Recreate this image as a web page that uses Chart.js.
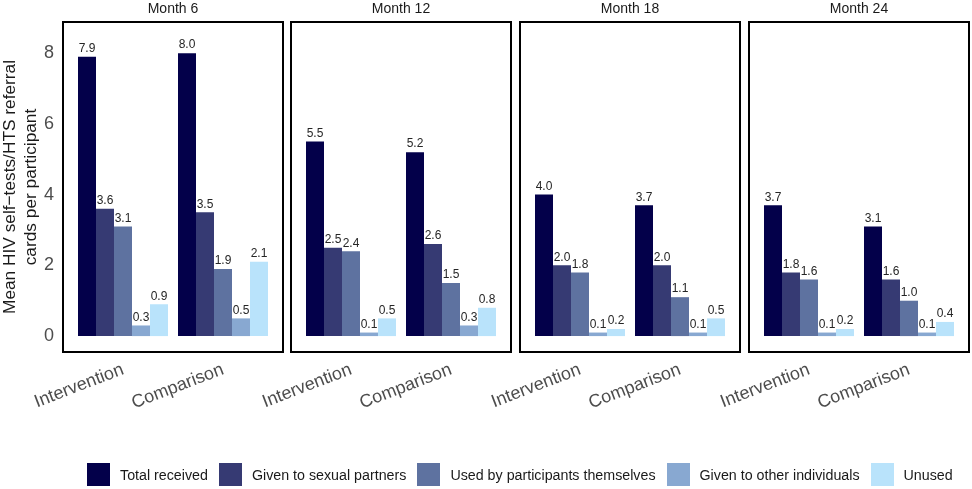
<!DOCTYPE html>
<html>
<head>
<meta charset="utf-8">
<script src="https://cdn.jsdelivr.net/npm/chart.js@4"></script>
<style>
  body { margin: 0; background: #fff; font-family: "Liberation Sans", Arial, sans-serif; }
  #wrap { position: relative; width: 972px; height: 489px; overflow: hidden; }
  #wrap canvas { position: absolute; left: 0; top: 0; }
  #legend { position: absolute; left: 87px; top: 463px; width: 900px; display: flex; align-items: center; font-size: 14.25px; color: #1a1a1a; white-space: nowrap; }
  #legend .item { display: flex; align-items: center; margin-right: 11px; flex: none; }
  #legend .sw { width: 23px; height: 23px; margin-right: 10px; flex: none; }
</style>
</head>
<body>
<div id="wrap">
  <canvas id="c0" width="972" height="489"></canvas>
  <canvas id="c1" width="972" height="489"></canvas>
  <canvas id="c2" width="972" height="489"></canvas>
  <canvas id="c3" width="972" height="489"></canvas>
  <div id="legend"></div>
</div>
<script>
// Facets, groups and series
var months = ['Month 6', 'Month 12', 'Month 18', 'Month 24'];
var groups = ['Intervention', 'Comparison'];
var seriesNames = ['Total received', 'Given to sexual partners', 'Used by participants themselves', 'Given to other individuals', 'Unused'];
var seriesColors = ['#03004a', '#363a73', '#5e72a0', '#88a8d1', '#b9e3fb'];
var yTicks = [0, 2, 4, 6, 8];

// values per month: [Intervention, Comparison] for each series
var totalReceived  = [[7.9, 8.0], [5.5, 5.2], [4.0, 3.7], [3.7, 3.1]];
var sexualPartners = [[3.6, 3.5], [2.5, 2.6], [2.0, 2.0], [1.8, 1.6]];
var usedThemselves = [[3.1, 1.9], [2.4, 1.5], [1.8, 1.1], [1.6, 1.0]];
var otherPeople    = [[0.3, 0.5], [0.1, 0.3], [0.1, 0.1], [0.1, 0.1]];
var unused         = [[0.9, 2.1], [0.5, 0.8], [0.2, 0.5], [0.2, 0.4]];
var allSeries = [totalReceived, sexualPartners, usedThemselves, otherPeople, unused];

// chart area of each panel in the picture
var panelLeft = [63, 291, 520, 749];
var panelWidth = 220;
var panelTop = 22, panelBottom = 352;

// draws the black panel box, the facet title and the values over the bars
var panelPlugin = {
  id: 'panel',
  afterDatasetsDraw: function(chart, args, opts) {
    var ctx = chart.ctx, a = chart.chartArea;
    ctx.save();
    ctx.font = '12px "Liberation Sans", Arial, sans-serif';
    ctx.fillStyle = '#262626';
    ctx.textAlign = 'center';
    ctx.textBaseline = 'bottom';
    chart.data.datasets.forEach(function(ds, i) {
      chart.getDatasetMeta(i).data.forEach(function(bar, j) {
        ctx.fillText(ds.data[j].y.toFixed(1), bar.x, bar.y - 2);
      });
    });
    ctx.strokeStyle = '#000';
    ctx.lineWidth = 2;
    ctx.strokeRect(a.left, a.top, a.right - a.left, a.bottom - a.top);
    ctx.font = '14px "Liberation Sans", Arial, sans-serif';
    ctx.fillStyle = '#1a1a1a';
    ctx.textBaseline = 'middle';
    ctx.fillText(opts.title, (a.left + a.right) / 2, 9);
    ctx.restore();
  }
};

months.forEach(function(month, m) {
  var first = m === 0;
  var datasets = seriesNames.map(function(name, s) {
    return {
      label: name,
      backgroundColor: seriesColors[s],
      data: groups.map(function(g, k) { return { x: k + 1, y: allSeries[s][m][k] }; }),
      categoryPercentage: 0.9,
      barPercentage: 1.0
    };
  });
  new Chart(document.getElementById('c' + m), {
    type: 'bar',
    data: { datasets: datasets },
    plugins: [panelPlugin],
    options: {
      responsive: false,
      animation: false,
      events: [],
      layout: {
        padding: {
          left: first ? 0 : panelLeft[m],
          right: 972 - panelLeft[m] - panelWidth,
          top: panelTop,
          bottom: 0
        }
      },
      plugins: {
        legend: { display: false },
        tooltip: { enabled: false },
        panel: { title: month }
      },
      scales: {
        x: {
          type: 'linear',
          min: 0.4,
          max: 2.6,
          offset: false,
          grid: { display: false, drawTicks: false },
          border: { display: false },
          afterBuildTicks: function(axis) {
            axis.ticks = groups.map(function(g, k) { return { value: k + 1 }; });
          },
          afterFit: function(axis) {
            axis.height = 489 - panelBottom;
            axis.paddingLeft = 0;
            axis.paddingRight = 0;
          },
          ticks: {
            autoSkip: false,
            minRotation: 21,
            maxRotation: 21,
            padding: 7,
            color: '#4d4d4d',
            font: { size: 18, family: '"Liberation Sans", Arial, sans-serif' },
            callback: function(v) { return groups[v - 1]; }
          }
        },
        y: {
          display: first,
          min: -0.45,
          max: 8.88,
          grid: { display: false, drawTicks: false },
          border: { display: false },
          afterBuildTicks: function(axis) {
            axis.ticks = yTicks.map(function(v) { return { value: v }; });
          },
          afterFit: function(axis) { if (first) axis.width = panelLeft[0]; },
          ticks: {
            padding: 9,
            color: '#4d4d4d',
            font: { size: 18, family: '"Liberation Sans", Arial, sans-serif' }
          },
          title: {
            display: true,
            text: ['Mean HIV self\u2212tests/HTS referral', 'cards per participant'],
            color: '#1a1a1a',
            padding: 0,
            font: { size: 17.3, family: '"Liberation Sans", Arial, sans-serif', lineHeight: 1.2 }
          }
        }
      }
    }
  });
});

// legend built from the series names and colours
var legend = document.getElementById('legend');
seriesNames.forEach(function(name, s) {
  var item = document.createElement('div');
  item.className = 'item';
  item.innerHTML = '<span class="sw" style="background:' + seriesColors[s] + '"></span><span>' + name + '</span>';
  legend.appendChild(item);
});
</script>
</body>
</html>
